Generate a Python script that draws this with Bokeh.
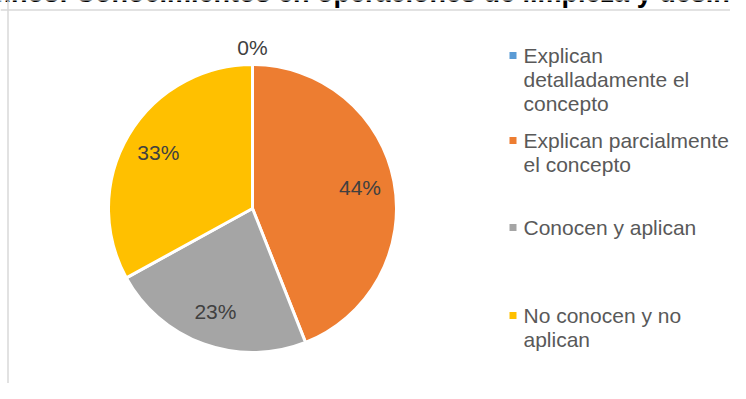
import math
from bokeh.plotting import figure
from bokeh.models import ColumnDataSource, Span
from bokeh.core.properties import value
from bokeh.embed import file_html
from bokeh.resources import INLINE

# ---- data ----
categories = [
    "Explican detalladamente el concepto",
    "Explican parcialmente el concepto",
    "Conocen y aplican",
    "No conocen y no aplican",
]
legend_lines = [
    ["Explican", "detalladamente el", "concepto"],
    ["Explican parcialmente", "el concepto"],
    ["Conocen y aplican"],
    ["No conocen y no", "aplican"],
]
percentages = [0, 44, 23, 33]
colors = ["#5B9BD5", "#ED7D31", "#A5A5A5", "#FFC000"]
title_text = "Alumnos: Conocimientos en operaciones de limpieza y desinfección"

# ---- layout ----
W, H = 730, 383
FONT = "Liberation Sans"
cx, cy, R = 252, H - 208, 144
legend_top = [55, 140, 227, 315]   # canvas y of first line of each legend entry
line_step = 24
sq_x, txt_x = 512.5, 523

p = figure(width=W, height=H, x_range=(0, W), y_range=(0, H),
           output_backend="svg", toolbar_location=None, min_border=0,
           x_axis_location=None, y_axis_location=None)
p.grid.visible = False
p.outline_line_color = None
p.background_fill_color = "white"

# frame lines (chart area border)
p.add_layout(Span(location=7.5, dimension="height", line_color="#D9D9D9", line_width=1.5))
p.add_layout(Span(location=H - 9.5, dimension="width", line_color="#D9D9D9", line_width=1.5))

# title (mostly cut off at the top as in the reference)
p.text(x=[-57], y=[H + 8], text=[title_text], text_font=value(FONT),
       text_font_size="27px", text_font_style="bold", text_color="#000000",
       text_align="left", text_baseline="alphabetic")

# ---- wedges ----
total = sum(percentages)
starts, ends, mids = [], [], []
c = 0.0
for v in percentages:
    f0 = c / total
    c += v
    f1 = c / total
    starts.append(math.pi / 2 - 2 * math.pi * f0)
    ends.append(math.pi / 2 - 2 * math.pi * f1)
    mids.append((f0 + f1) / 2)

idx = [i for i, v in enumerate(percentages) if v > 0]
wsrc = ColumnDataSource(dict(
    x=[cx] * len(idx), y=[cy] * len(idx),
    start=[starts[i] for i in idx], end=[ends[i] for i in idx],
    color=[colors[i] for i in idx],
))
p.wedge(x="x", y="y", radius=R, start_angle="start", end_angle="end",
        direction="clock", fill_color="color", line_color="white",
        line_width=3, source=wsrc)

# ---- data labels ----
lx, ly, lt = [], [], []
for v, m in zip(percentages, mids):
    a = math.pi / 2 - 2 * math.pi * m
    rl = 0.76 * R if v > 0 else R + 17
    lx.append(cx + rl * math.cos(a))
    ly.append(cy + rl * math.sin(a))
    lt.append(f"{v}%")
p.text(x=lx, y=ly, text=lt, text_font=value(FONT), text_font_size="21px",
       text_color="#404040", text_align="center", text_baseline="middle")

# ---- legend ----
for i, lines in enumerate(legend_lines):
    y0 = H - legend_top[i]
    p.scatter(x=[sq_x], y=[y0], marker="square", size=7,
              fill_color=colors[i], line_color=None)
    p.text(x=[txt_x] * len(lines), y=[y0 - k * line_step for k in range(len(lines))],
           text=lines, text_font=value(FONT), text_font_size="21px",
           text_color="#595959", text_align="left", text_baseline="middle")

open("out.html", "w").write(file_html(p, INLINE))
